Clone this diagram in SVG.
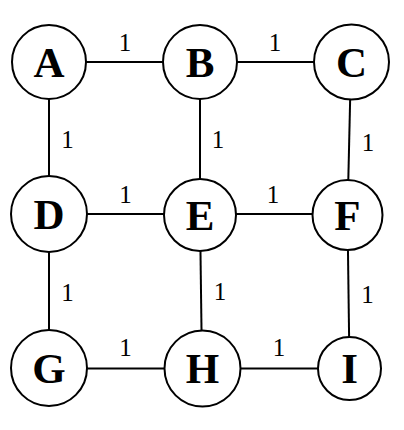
<svg xmlns="http://www.w3.org/2000/svg" width="404" height="430" viewBox="0 0 404 430">
<style>
.n circle{fill:#fff;stroke:#000;stroke-width:2}
.n text{font-family:"Liberation Serif","Times New Roman",serif;font-weight:bold;font-size:43px;text-anchor:middle;fill:#000}
.e line{stroke:#000;stroke-width:2}
.w{font-family:"Liberation Serif","Times New Roman",serif;font-size:25px;text-anchor:middle;fill:#000}
</style>
<rect width="404" height="430" fill="#fff"/>
<g id="connectors" class="e">
<line x1="49" y1="62" x2="200" y2="62"/>
<line x1="200" y1="62" x2="351.5" y2="62"/>
<line x1="49" y1="214" x2="200" y2="214"/>
<line x1="200" y1="214" x2="347.5" y2="214"/>
<line x1="49" y1="368.5" x2="202.5" y2="368.5"/>
<line x1="202.5" y1="368.5" x2="349.5" y2="368.5"/>
<line x1="49" y1="62" x2="49" y2="214"/>
<line x1="200" y1="62" x2="200" y2="215"/>
<line x1="351" y1="62" x2="347.5" y2="215"/>
<line x1="49" y1="214" x2="49" y2="368"/>
<line x1="200" y1="215" x2="202" y2="368"/>
<line x1="347.5" y1="215" x2="349.5" y2="368"/>
</g>
<g id="labels">
<text class="w" x="125" y="51">1</text>
<text class="w" x="275" y="51">1</text>
<text class="w" x="125.5" y="203">1</text>
<text class="w" x="273" y="203">1</text>
<text class="w" x="125.5" y="356">1</text>
<text class="w" x="279" y="356">1</text>
<text class="w" x="67.5" y="148">1</text>
<text class="w" x="218" y="148">1</text>
<text class="w" x="368" y="150.5">1</text>
<text class="w" x="67.5" y="301">1</text>
<text class="w" x="220" y="300">1</text>
<text class="w" x="367.5" y="303">1</text>
</g>
<g id="A" class="n"><circle cx="49" cy="62" r="37"/><text x="49" y="76.5">A</text></g>
<g id="B" class="n"><circle cx="200" cy="62" r="37"/><text x="200" y="76.5">B</text></g>
<g id="C" class="n"><circle cx="351.5" cy="62" r="37.5"/><text x="351.5" y="76.5">C</text></g>
<g id="D" class="n"><circle cx="49" cy="214" r="38"/><text x="49" y="228.5">D</text></g>
<g id="E" class="n"><circle cx="200" cy="215" r="36"/><text x="200" y="229.5">E</text></g>
<g id="F" class="n"><circle cx="347.5" cy="215" r="35"/><text x="347.5" y="229.5">F</text></g>
<g id="G" class="n"><circle cx="49" cy="368" r="38"/><text x="49" y="382.5">G</text></g>
<g id="H" class="n"><circle cx="202.5" cy="368.5" r="38"/><text x="202.5" y="383">H</text></g>
<g id="I" class="n"><circle cx="349.5" cy="368.5" r="31.5"/><text x="349.5" y="383">I</text></g>
</svg>
